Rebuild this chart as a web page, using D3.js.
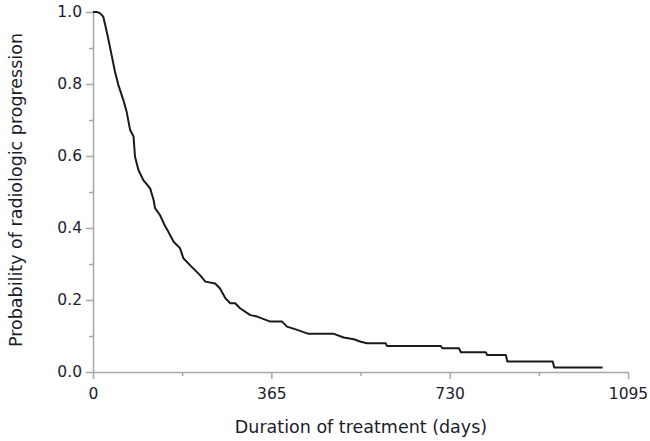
<!DOCTYPE html>
<html>
<head>
<meta charset="utf-8">
<script src="https://cdn.jsdelivr.net/npm/d3@7"></script>
<style>
  body { margin: 0; background: #fff; }
  svg text { font-family: "DejaVu Sans", Verdana, sans-serif; }
</style>
</head>
<body>
<div id="chart"></div>
<script>
// Kaplan-Meier style curve
var days = [0, 8, 14, 21, 25, 31, 38, 45, 52, 62, 69, 76, 83, 86, 93, 103, 117, 124, 127, 137,
  148, 154, 165, 178, 185, 202, 219, 230, 250, 260, 271, 281, 291, 301, 322, 336, 363, 387, 397,
  418, 441, 493, 513, 534, 548, 561, 599, 602, 712, 715, 749, 753, 804, 807, 845, 848, 941, 944, 1043];
var prob = [1.0, 1.0, 0.997, 0.987, 0.964, 0.927, 0.881, 0.834, 0.797, 0.756, 0.722, 0.672, 0.654,
  0.598, 0.561, 0.533, 0.510, 0.478, 0.455, 0.436, 0.404, 0.390, 0.362, 0.344, 0.316, 0.292, 0.269,
  0.251, 0.246, 0.232, 0.205, 0.191, 0.191, 0.177, 0.158, 0.154, 0.140, 0.140, 0.126, 0.117, 0.106,
  0.106, 0.096, 0.091, 0.084, 0.080, 0.080, 0.072, 0.072, 0.066, 0.066, 0.055, 0.055, 0.047, 0.047,
  0.029, 0.029, 0.0125, 0.0125];

var xMajor = [0, 365, 730, 1095];
var xMinor = [182.5, 547.5, 912.5];
var yMajor = [0, 0.2, 0.4, 0.6, 0.8, 1.0];
var yMinor = [0.1, 0.3, 0.5, 0.7, 0.9];

var width = 650, height = 441;
var margin = { left: 93, top: 12, right: 22, bottom: 69 };

var svg = d3.select('#chart').append('svg')
  .attr('width', width)
  .attr('height', height);

var x = d3.scaleLinear().domain([0, 1095]).range([margin.left, width - margin.right]);
var y = d3.scaleLinear().domain([0, 1]).range([height - margin.bottom, margin.top]);

var axisColor = '#a8a8a8';
var textColor = '#1c1c2c';

// minor ticks first
svg.append('g')
  .attr('transform', 'translate(0,' + y(0) + ')')
  .call(d3.axisBottom(x).tickValues(xMinor).tickSize(4).tickFormat(''))
  .call(function (g) { g.select('.domain').remove(); });
svg.append('g')
  .attr('transform', 'translate(' + x(0) + ',0)')
  .call(d3.axisLeft(y).tickValues(yMinor).tickSize(4).tickFormat(''))
  .call(function (g) { g.select('.domain').remove(); });

var xAxis = svg.append('g')
  .attr('transform', 'translate(0,' + y(0) + ')')
  .call(d3.axisBottom(x).tickValues(xMajor).tickSize(7).tickSizeOuter(0).tickPadding(9).tickFormat(d3.format('d')));

var yAxis = svg.append('g')
  .attr('transform', 'translate(' + x(0) + ',0)')
  .call(d3.axisLeft(y).tickValues(yMajor).tickSize(7).tickSizeOuter(0).tickPadding(4).tickFormat(d3.format('.1f')));

svg.selectAll('.domain, .tick line')
  .attr('stroke', axisColor)
  .attr('stroke-width', 1.5);
svg.selectAll('.tick text')
  .attr('fill', textColor)
  .style('font-size', '15.5px');

// axis titles
svg.append('text')
  .attr('x', 361)
  .attr('y', 433)
  .attr('text-anchor', 'middle')
  .attr('fill', textColor)
  .style('font-size', '17.5px')
  .text('Duration of treatment (days)');

svg.append('text')
  .attr('transform', 'translate(22,190) rotate(-90)')
  .attr('text-anchor', 'middle')
  .attr('fill', textColor)
  .style('font-size', '17.5px')
  .text('Probability of radiologic progression');

// curve
var line = d3.line()
  .x(function (d, i) { return x(days[i]); })
  .y(function (d, i) { return y(prob[i]); });

svg.append('path')
  .datum(days)
  .attr('d', line)
  .attr('fill', 'none')
  .attr('stroke', '#1a1a1a')
  .attr('stroke-width', 2)
  .attr('stroke-linejoin', 'round');
</script>
</body>
</html>
